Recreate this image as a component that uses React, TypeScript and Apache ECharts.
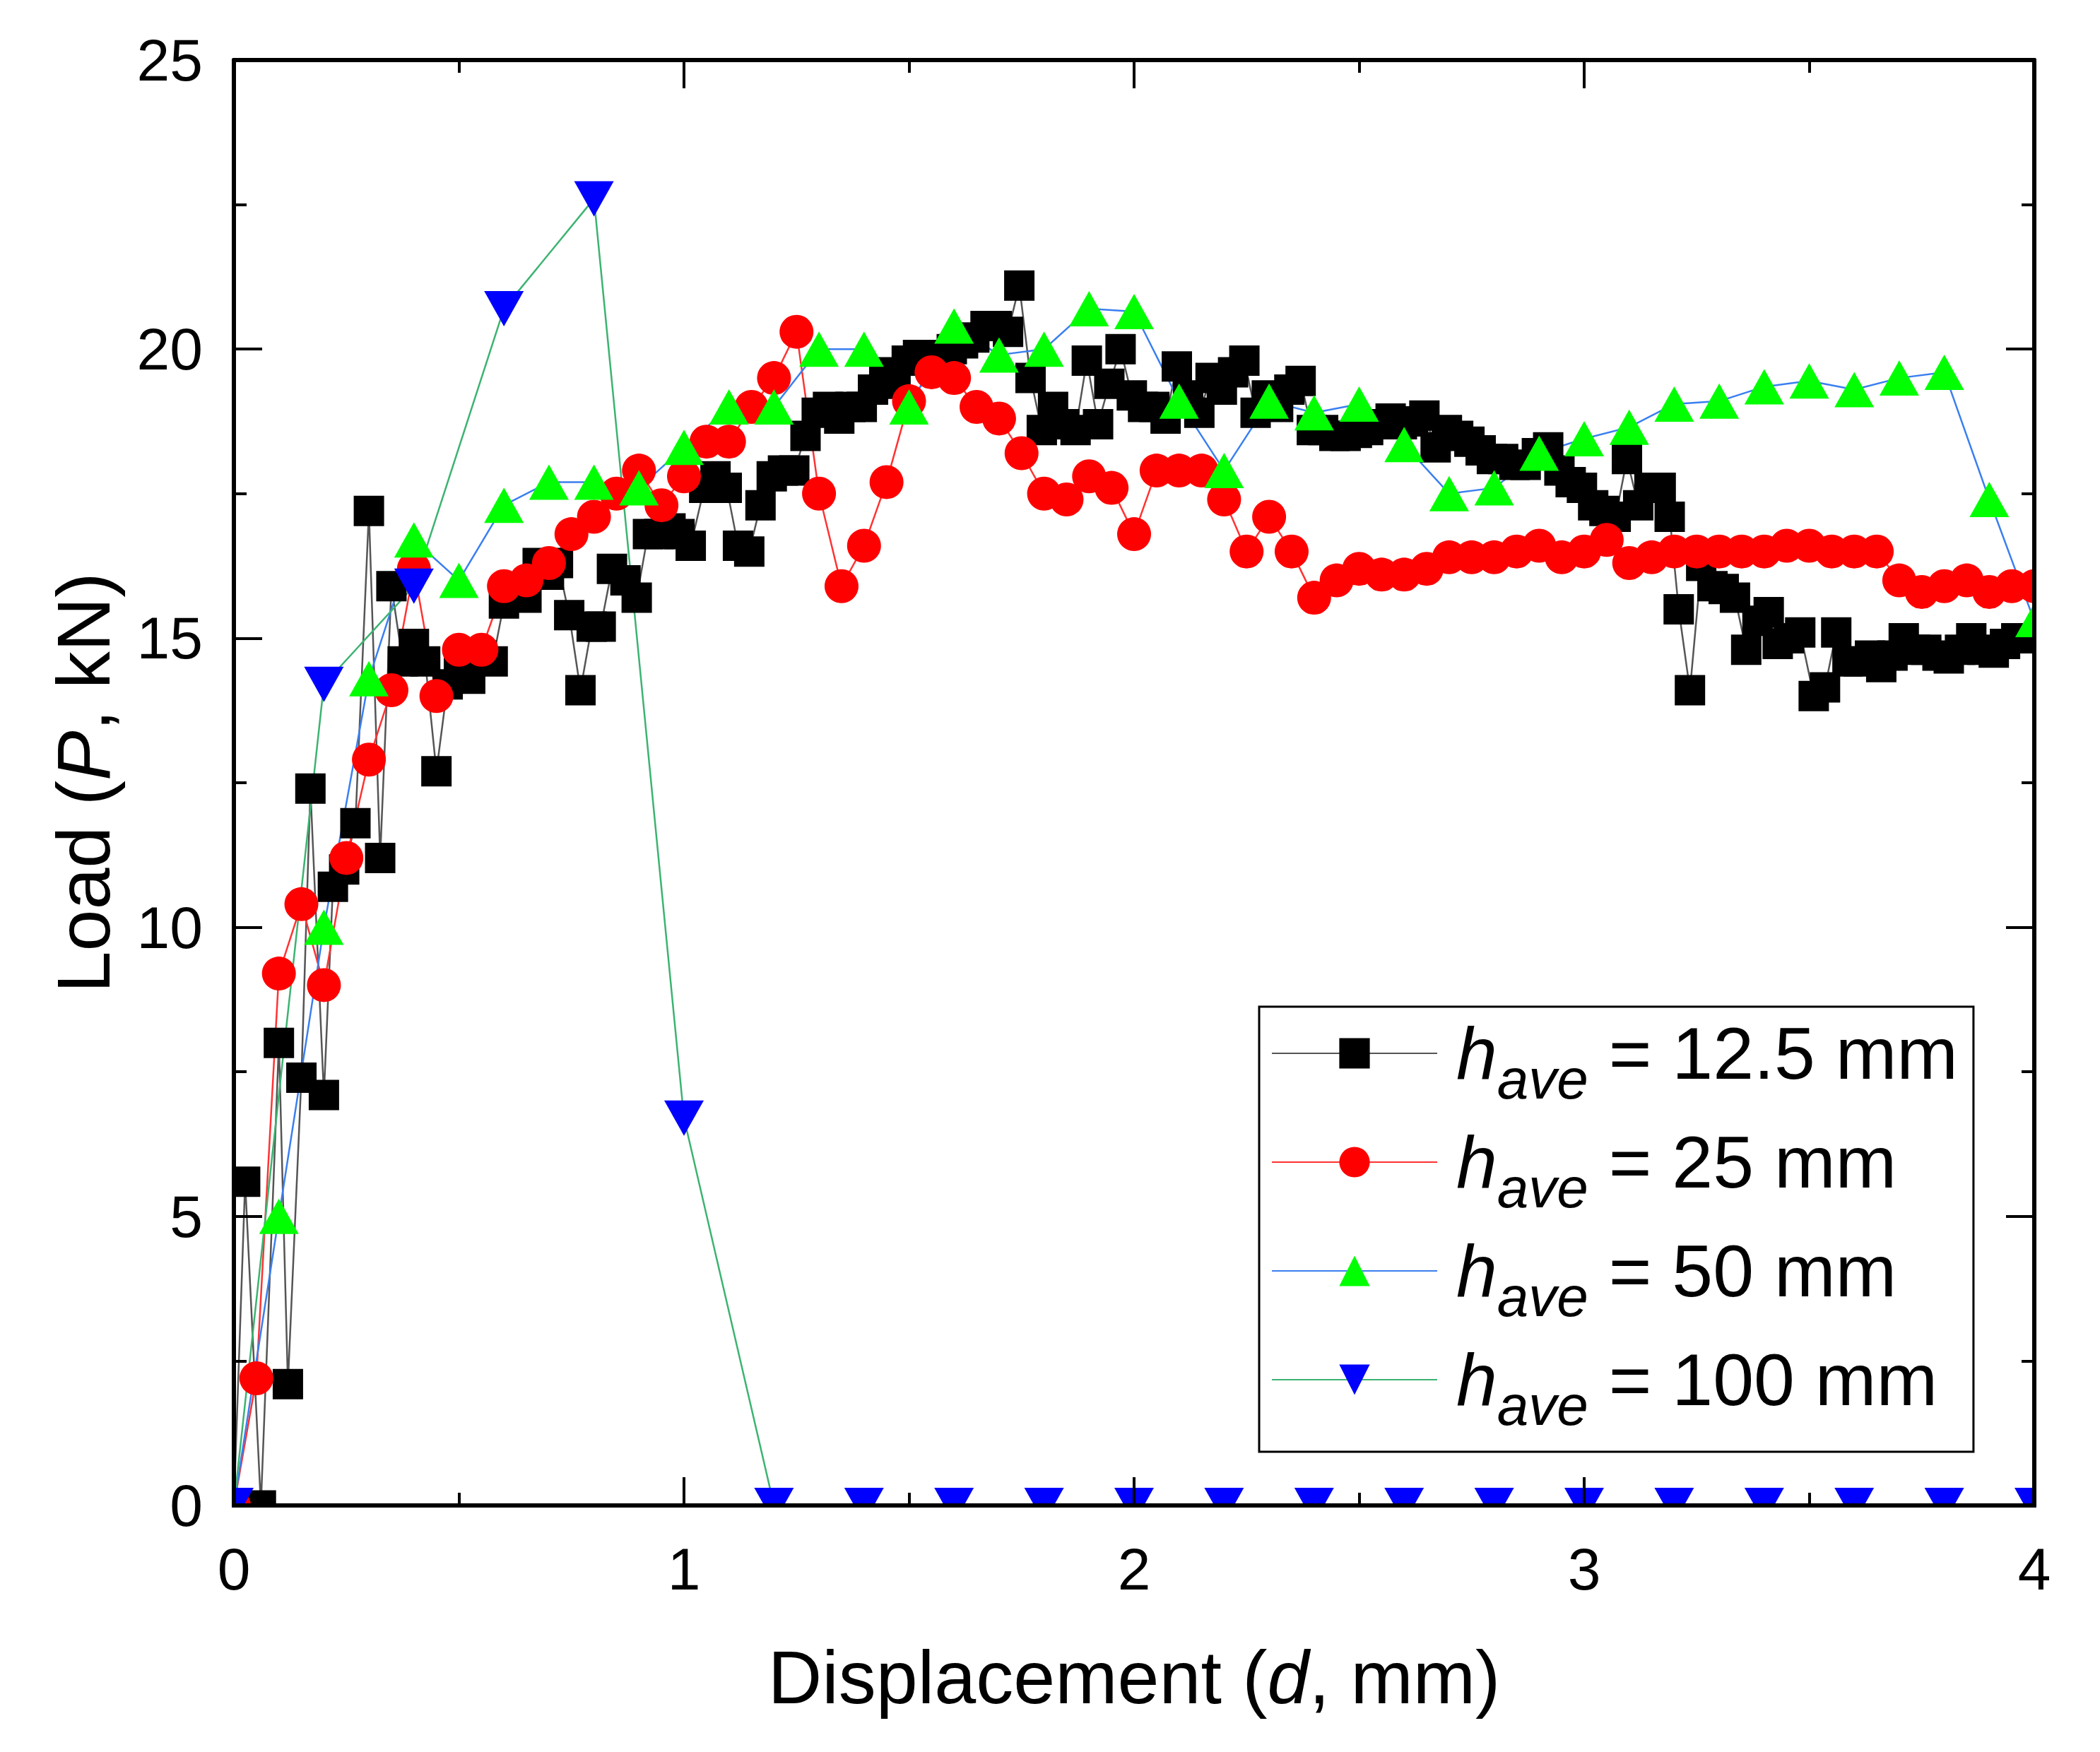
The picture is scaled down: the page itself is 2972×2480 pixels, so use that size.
import React, { useEffect, useRef } from "react";
import * as echarts from "echarts";

const W = 2972;
const H = 2480;
const FONT = "Liberation Sans";

const legendNames = ["12.5 mm", "25 mm", "50 mm", "100 mm"];

// h_ave = 12.5 mm (black squares)
const load125: [number, number][] = [
  [0, 0], [0.025, 5.6], [0.06, 0], [0.1, 8.0], [0.12, 2.1], [0.15, 7.4], [0.17, 12.4], [0.2, 7.1],
  [0.22, 10.7], [0.245, 11.0], [0.27, 11.8], [0.3, 17.2], [0.325, 11.2], [0.35, 15.9], [0.375, 14.6],
  [0.4, 14.9], [0.425, 14.6], [0.45, 12.7], [0.475, 14.2], [0.5, 14.5], [0.525, 14.3], [0.55, 14.7],
  [0.575, 14.6], [0.6, 15.6], [0.625, 15.8], [0.65, 15.7], [0.675, 16.3], [0.7, 16.1], [0.72, 16.3],
  [0.745, 15.4], [0.77, 14.1], [0.795, 15.2], [0.815, 15.2], [0.84, 16.2], [0.87, 16.0], [0.895, 15.7],
  [0.92, 16.8], [0.945, 16.8], [0.97, 16.9], [0.99, 16.8], [1.015, 16.6], [1.045, 17.6], [1.07, 17.8],
  [1.095, 17.6], [1.12, 16.6], [1.145, 16.5], [1.17, 17.3], [1.195, 17.8], [1.22, 17.9], [1.245, 17.9],
  [1.27, 18.5], [1.295, 18.9], [1.32, 19.0], [1.345, 18.8], [1.37, 19.0], [1.395, 19.0], [1.42, 19.3],
  [1.445, 19.6], [1.47, 19.4], [1.495, 19.8], [1.52, 19.9], [1.545, 19.9], [1.57, 19.7], [1.595, 20.0],
  [1.62, 20.1], [1.645, 20.2], [1.67, 20.4], [1.695, 20.4], [1.72, 20.3], [1.745, 21.1], [1.77, 19.5],
  [1.795, 18.6], [1.82, 19.0], [1.845, 18.7], [1.87, 18.6], [1.895, 19.8], [1.92, 18.7], [1.945, 19.4],
  [1.97, 20.0], [1.995, 19.2], [2.02, 19.0], [2.045, 19.0], [2.07, 18.8], [2.095, 19.7], [2.12, 19.2],
  [2.145, 18.9], [2.17, 19.5], [2.195, 19.3], [2.22, 19.6], [2.245, 19.8], [2.27, 18.9], [2.295, 19.2],
  [2.32, 19.0], [2.345, 19.3], [2.37, 19.45], [2.395, 18.6], [2.42, 18.6], [2.445, 18.5], [2.47, 18.5],
  [2.495, 18.55], [2.52, 18.6], [2.545, 18.7], [2.57, 18.8], [2.595, 18.7], [2.62, 18.75], [2.645, 18.85],
  [2.67, 18.3], [2.695, 18.6], [2.72, 18.5], [2.745, 18.4], [2.77, 18.25], [2.795, 18.1], [2.82, 18.1],
  [2.845, 18.0], [2.87, 18.0], [2.895, 18.2], [2.92, 18.3], [2.945, 17.9], [2.97, 17.7], [2.995, 17.6],
  [3.02, 17.3], [3.045, 17.2], [3.07, 17.1], [3.095, 18.1], [3.12, 17.3], [3.145, 17.6], [3.17, 17.6],
  [3.19, 17.1], [3.21, 15.5], [3.235, 14.1], [3.26, 16.25], [3.285, 15.9], [3.31, 15.85], [3.335, 15.7],
  [3.36, 14.8], [3.385, 15.3], [3.41, 15.45], [3.43, 14.9], [3.455, 15.0], [3.48, 15.1], [3.51, 14.0],
  [3.535, 14.15], [3.56, 15.1], [3.585, 14.6], [3.61, 14.6], [3.635, 14.7], [3.66, 14.5], [3.685, 14.7],
  [3.71, 15.0], [3.735, 14.8], [3.76, 14.8], [3.785, 14.7], [3.81, 14.65], [3.835, 14.8], [3.86, 15.0],
  [3.885, 14.8], [3.91, 14.75], [3.935, 14.9], [3.96, 15.0], [3.985, 15.0],
];

// h_ave = 25 mm (red circles)
const load25: [number, number][] = [
  [0, 0], [0.05, 2.2], [0.1, 9.2], [0.15, 10.4], [0.2, 9.0], [0.25, 11.2], [0.3, 12.9], [0.35, 14.1],
  [0.4, 16.2], [0.45, 14.0], [0.5, 14.8], [0.55, 14.8], [0.6, 15.9], [0.65, 16.0], [0.7, 16.3],
  [0.75, 16.8], [0.8, 17.1], [0.85, 17.5], [0.9, 17.9], [0.95, 17.3], [1.0, 17.8], [1.05, 18.4],
  [1.1, 18.4], [1.15, 19.0], [1.2, 19.5], [1.25, 20.3], [1.3, 17.5], [1.35, 15.9], [1.4, 16.6],
  [1.45, 17.7], [1.5, 19.1], [1.55, 19.6], [1.6, 19.5], [1.65, 19.0], [1.7, 18.8], [1.75, 18.2],
  [1.8, 17.5], [1.85, 17.4], [1.9, 17.8], [1.95, 17.6], [2.0, 16.8], [2.05, 17.9], [2.1, 17.9],
  [2.15, 17.9], [2.2, 17.4], [2.25, 16.5], [2.3, 17.1], [2.35, 16.5], [2.4, 15.7], [2.45, 16.0],
  [2.5, 16.2], [2.55, 16.1], [2.6, 16.1], [2.65, 16.2], [2.7, 16.4], [2.75, 16.4], [2.8, 16.4],
  [2.85, 16.5], [2.9, 16.6], [2.95, 16.4], [3.0, 16.5], [3.05, 16.7], [3.1, 16.3], [3.15, 16.4],
  [3.2, 16.5], [3.25, 16.5], [3.3, 16.5], [3.35, 16.5], [3.4, 16.5], [3.45, 16.6], [3.5, 16.6],
  [3.55, 16.5], [3.6, 16.5], [3.65, 16.5], [3.7, 16.0], [3.75, 15.8], [3.8, 15.9], [3.85, 16.0],
  [3.9, 15.8], [3.95, 15.9], [4.0, 15.9],
];

// h_ave = 50 mm (green triangles)
const load50: [number, number][] = [
  [0, 0], [0.1, 5.0], [0.2, 10.0], [0.3, 14.3], [0.4, 16.7], [0.5, 16.0], [0.6, 17.3], [0.7, 17.7],
  [0.8, 17.7], [0.9, 17.6], [1.0, 18.3], [1.1, 19.0], [1.2, 19.0], [1.3, 20.0], [1.4, 20.0],
  [1.5, 19.0], [1.6, 20.4], [1.7, 19.9], [1.8, 20.0], [1.9, 20.7], [2.0, 20.65], [2.1, 19.1],
  [2.2, 17.9], [2.3, 19.1], [2.4, 18.9], [2.5, 19.05], [2.6, 18.35], [2.7, 17.5], [2.8, 17.6],
  [2.9, 18.2], [3.0, 18.45], [3.1, 18.65], [3.2, 19.05], [3.3, 19.1], [3.4, 19.35], [3.5, 19.45],
  [3.6, 19.3], [3.7, 19.5], [3.8, 19.6], [3.9, 17.4], [4.0, 15.3],
];

// h_ave = 100 mm (blue inverted triangles)
const load100: [number, number][] = [
  [0, 0], [0.2, 14.2], [0.4, 15.9], [0.6, 20.7], [0.8, 22.6], [1.0, 6.7], [1.2, 0], [1.4, 0],
  [1.6, 0], [1.8, 0], [2.0, 0], [2.2, 0], [2.4, 0], [2.6, 0], [2.8, 0], [3.0, 0], [3.2, 0],
  [3.4, 0], [3.6, 0], [3.8, 0], [4.0, 0],
];

const GRID = { left: 331, right: 93, top: 85, bottom: 349 };

function axisCommon(show: boolean) {
  return {
    type: "value" as const,
    axisLine: { show: true, onZero: false, lineStyle: { color: "#000", width: 6 } },
    axisTick: { show: true, inside: true, length: 40, lineStyle: { color: "#000", width: 4 } },
    minorTick: { show: true, splitNumber: 2, length: 18, lineStyle: { color: "#000", width: 4 } },
    splitLine: { show: false },
    axisLabel: {
      show,
      fontSize: 84,
      color: "#000",
      fontFamily: FONT,
      showMinLabel: true,
      showMaxLabel: true,
    },
    z: 6,
  };
}

export default function App() {
  const ref = useRef<HTMLDivElement>(null);

  useEffect(() => {
    document.body.style.margin = "0";
    if (!ref.current) return;
    const chart = echarts.init(ref.current, undefined, { renderer: "svg" });

    const plotRight = W - GRID.right;
    const plotBottom = H - GRID.bottom;

    const option: any = {
      animation: false,
      backgroundColor: "#fff",
      grid: { ...GRID, containLabel: false },
      xAxis: [
        {
          ...axisCommon(true),
          position: "bottom",
          min: 0,
          max: 4,
          interval: 1,
          axisLabel: { ...axisCommon(true).axisLabel, margin: 48 },
          name: "Displacement ({i|d}, mm)",
          nameLocation: "middle",
          nameGap: 190,
          nameTextStyle: {
            fontSize: 106,
            color: "#000",
            fontFamily: FONT,
            rich: { i: { fontSize: 106, fontStyle: "italic", color: "#000", fontFamily: FONT } },
          },
        },
        { ...axisCommon(false), position: "top", min: 0, max: 4, interval: 1 },
      ],
      yAxis: [
        {
          ...axisCommon(true),
          position: "left",
          min: 0,
          max: 25,
          interval: 5,
          axisLabel: { ...axisCommon(true).axisLabel, margin: 44 },
          name: "Load ({i|P}, kN)",
          nameLocation: "middle",
          nameGap: 160,
          nameRotate: 90,
          nameTextStyle: {
            fontSize: 106,
            color: "#000",
            fontFamily: FONT,
            rich: { i: { fontSize: 106, fontStyle: "italic", color: "#000", fontFamily: FONT } },
          },
        },
        { ...axisCommon(false), position: "right", min: 0, max: 25, interval: 5 },
      ],
      legend: {
        orient: "vertical",
        left: 1782,
        top: 1425,
        data: legendNames,
        itemWidth: 234,
        itemHeight: 54,
        itemGap: 26,
        padding: [14, 22, 26, 17],
        borderColor: "#000",
        borderWidth: 3,
        borderRadius: 0,
        backgroundColor: "#fff",
        selectedMode: false,
        formatter: (name: string) => `{h|h}{s|ave}{t| = ${name}}`,
        textStyle: {
          color: "#000",
          fontFamily: FONT,
          rich: {
            h: { fontSize: 104, fontStyle: "italic", fontFamily: FONT, color: "#000", padding: [0, 0, 0, 22] },
            s: { fontSize: 80, fontStyle: "italic", fontFamily: FONT, color: "#000", padding: [72, 0, 0, 0] },
            t: { fontSize: 104, fontFamily: FONT, color: "#000" },
          },
        },
        z: 4,
      },
      graphic: {
        elements: [
          { type: "rect", z: 5, silent: true, shape: { x: 0, y: plotBottom + 3, width: W, height: H }, style: { fill: "#fff" } },
          { type: "rect", z: 5, silent: true, shape: { x: plotRight + 3, y: 0, width: W, height: H }, style: { fill: "#fff" } },
          { type: "rect", z: 5, silent: true, shape: { x: 0, y: 0, width: GRID.left - 3, height: H }, style: { fill: "#fff" } },
          { type: "rect", z: 5, silent: true, shape: { x: 0, y: 0, width: W, height: GRID.top - 3 }, style: { fill: "#fff" } },
        ],
      },
      series: [
        {
          name: legendNames[0],
          type: "line",
          data: load125,
          clip: false,
          symbol: "rect",
          symbolSize: 43,
          itemStyle: { color: "#000" },
          lineStyle: { color: "#555", width: 2.5 },
        },
        {
          name: legendNames[1],
          type: "line",
          data: load25,
          clip: false,
          symbol: "circle",
          symbolSize: 48,
          itemStyle: { color: "#ff0000" },
          lineStyle: { color: "#ff3333", width: 2.5 },
        },
        {
          name: legendNames[2],
          type: "line",
          data: load50,
          clip: false,
          symbol: "triangle",
          symbolSize: [56, 50],
          itemStyle: { color: "#00ff00" },
          lineStyle: { color: "#3a7ff0", width: 2.5 },
        },
        {
          name: legendNames[3],
          type: "line",
          data: load100,
          clip: false,
          symbol: "triangle",
          symbolRotate: 180,
          symbolSize: [56, 50],
          itemStyle: { color: "#0000ff" },
          lineStyle: { color: "#3cb371", width: 2.5 },
        },
      ],
    };

    chart.setOption(option);
    return () => chart.dispose();
  }, []);

  return <div ref={ref} style={{ width: W, height: H }} />;
}
